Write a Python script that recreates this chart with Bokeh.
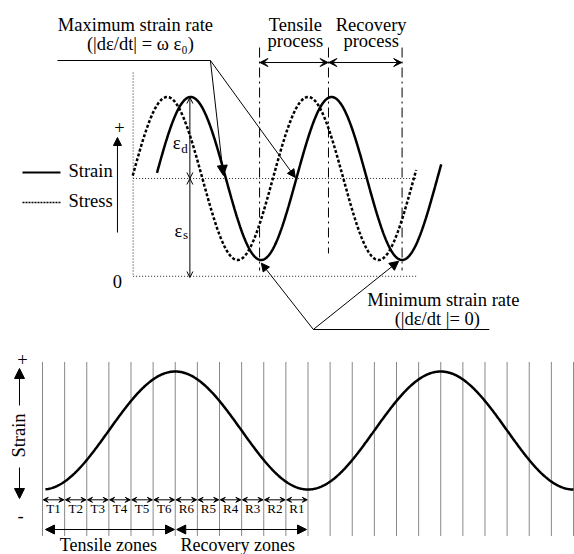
import numpy as np
from bokeh.plotting import figure
from bokeh.layouts import column
from bokeh.models import Range1d, Label, Arrow, NormalHead, OpenHead, VeeHead
from bokeh.embed import file_html
from bokeh.resources import INLINE

FONT = "Liberation Serif"
FS = "18.5px"
SUB = "13px"

# ---------------- data: top panel (phase in degrees, strain units) ----------------
eps_s = 1.2                 # static strain (mean level)
eps_d = 1.0                 # dynamic strain amplitude
stress_lead = 60            # phase lead of stress over strain (deg)
strain_span = (4, 730)      # drawn phase range of strain curve
stress_span = (-58, 666)    # drawn phase range of stress curve
process_bounds = [266, 442, 630]
process_names = [("Tensile", "process"), ("Recovery", "process")]

# ---------------- data: bottom panel ----------------
zone_edges = list(range(0, 721, 30))
zone_labels = ["T1", "T2", "T3", "T4", "T5", "T6", "R6", "R5", "R4", "R3", "R2", "R1"]
bottom_span = (4, 720)

strain_t = np.linspace(strain_span[0], strain_span[1], 500)
strain_v = eps_s + eps_d * np.sin(np.radians(strain_t))
stress_t = np.linspace(stress_span[0], stress_span[1], 500)
stress_v = eps_s + eps_d * np.sin(np.radians(stress_t + stress_lead))
bot_t = np.linspace(bottom_span[0], bottom_span[1], 600)
bot_v = -np.cos(np.radians(bot_t))


def mkfig(w, h, xr, yr):
    f = figure(width=w, height=h, x_range=Range1d(*xr), y_range=Range1d(*yr),
               output_backend="svg", toolbar_location=None,
               x_axis_location=None, y_axis_location=None,
               min_border=0, min_border_left=0, min_border_right=0,
               min_border_top=0, min_border_bottom=0)
    f.grid.visible = False
    f.outline_line_color = None
    f.background_fill_color = "white"
    f.border_fill_color = "white"
    return f


def lab(f, x, y, text, size=FS, align="center", baseline="alphabetic", angle=0):
    off = 0.0
    if baseline == "alphabetic":
        off = 0.32 * float(size.replace("px", ""))
    f.add_layout(Label(x=x, y=y, text=text, text_font=FONT, text_font_size=size,
                       text_align=align, text_baseline=baseline, angle=angle,
                       y_offset=off, text_color="black"))


def arrow(f, x0, y0, x1, y1, end=None, start=None, lw=1):
    f.add_layout(Arrow(x_start=x0, y_start=y0, x_end=x1, y_end=y1,
                       start=start, end=end, line_width=lw, line_color="black"))


def nh(s):
    return NormalHead(size=s, fill_color="black", line_color="black", line_width=1)


def oh(s):
    return OpenHead(size=s, line_color="black", line_width=1)


def vh(s):
    return VeeHead(size=s, fill_color="black", line_color="black", line_width=1)


# ================= TOP PANEL =================
p1 = mkfig(574, 340, (-395.74, 1070.4), (-0.788, 3.384))

dotc = "#222222"
# reference rectangle (dotted)
p1.line([-57, -57], [2.50, 0.0], line_dash="1 2", line_color=dotc, line_width=1)
p1.line([-57, 666], [0.0, 0.0], line_dash="1 2", line_color=dotc, line_width=1)
p1.line([-57, 666], [eps_s, eps_s], line_dash="1 2", line_color=dotc, line_width=1)

# curves
p1.line(stress_t, stress_v, line_color="black", line_width=2.5, line_dash="3 2")
p1.line(strain_t, strain_v, line_color="black", line_width=2.5)

# dash-dot process boundaries
bottoms = [0.071, 0.28, 0.071]
for b, yb in zip(process_bounds, bottoms):
    p1.line([b, b], [2.807, yb], line_color="black", line_width=1, line_dash="10 4 2 4")
for i, (a, b) in enumerate(zip(process_bounds[:-1], process_bounds[1:])):
    arrow(p1, a + 1, 2.623, b - 1, 2.623, start=vh(8), end=vh(8))
    cx = [357.4, 551.0][i]
    lab(p1, cx, 3.016, process_names[i][0])
    lab(p1, cx, 2.813, process_names[i][1])

# maximum strain rate
lab(p1, -51.1, 3.016, "Maximum strain rate")
lab(p1, -38.3, 2.777, "(|dε/dt| = ω ε₀)")
p1.line([-250.2, 140.4], [2.648, 2.648], line_color="black", line_width=1.2)
arrow(p1, 140.4, 2.648, 173.6, 1.237, end=nh(10))
arrow(p1, 140.4, 2.648, 357.4, 1.212, end=nh(8))

# minimum strain rate
lab(p1, 735.3, -0.358, "Minimum strain rate")
lab(p1, 720.0, -0.591, "(|dε/dt |= 0)")
p1.line([403.4, 852.8], [-0.653, -0.653], line_color="black", line_width=1.2)
arrow(p1, 403.4, -0.653, 270.6, 0.161, end=nh(8))
arrow(p1, 403.4, -0.653, 621.2, 0.185, end=nh(9))

# eps_d / eps_s dimension arrows
arrow(p1, 88, eps_s, 88, eps_s + eps_d - 0.006, start=oh(6), end=oh(6))
arrow(p1, 88, eps_s, 88, -0.015, start=oh(6), end=oh(6))
lab(p1, 54.4, 1.564, "ε")
lab(p1, 74.0, 1.523, "d", size=SUB)
lab(p1, 58.7, 0.480, "ε")
lab(p1, 76.6, 0.460, "s", size=SUB)

# legend
p1.line([-339.6, -242.6], [1.274, 1.274], line_color="black", line_width=2)
p1.line([-339.6, -242.6], [0.906, 0.906], line_color="black", line_width=1.5, line_dash="2 1")
lab(p1, -222.1, 1.216, "Strain", align="left")
lab(p1, -222.1, 0.848, "Stress", align="left")

# vertical value arrow
arrow(p1, -97, 0.537, -97, 1.703, end=nh(8))
lab(p1, -91.9, 1.826, "+", baseline="middle")
lab(p1, -97.0, -0.131, "0")

# ================= BOTTOM PANEL =================
p2 = mkfig(574, 214, (-56.95, 721.36), (-2.1017, 1.5254))

p2.segment(x0=zone_edges, y0=[1.153] * len(zone_edges), x1=zone_edges,
           y1=[-1.78] * len(zone_edges), line_color="#111111", line_width=1, line_dash="1 1")
p2.line(bot_t, bot_v, line_color="black", line_width=2.5)

for k, name in enumerate(zone_labels):
    a, b = zone_edges[k], zone_edges[k + 1]
    arrow(p2, a + 1, -1.175, b - 1, -1.175, start=vh(5), end=vh(5))
    lab(p2, (a + b) / 2, -1.39, name, size=SUB)

arrow(p2, 90, -1.678, 4, -1.678, end=nh(9))
arrow(p2, 90, -1.678, 179, -1.678, end=nh(9))
arrow(p2, 270, -1.678, 182, -1.678, end=nh(9))
arrow(p2, 270, -1.678, 358, -1.678, end=nh(9))
lab(p2, 23.5, -2.04, "Tensile zones", size="18px", align="left")
lab(p2, 187.1, -2.04, "Recovery zones", size="18px", align="left")

lab(p2, -32.5, -0.085, "Strain", baseline="middle", angle=np.pi / 2)
arrow(p2, -31.2, 0.424, -31.2, 1.051, end=nh(10))
arrow(p2, -31.2, -0.627, -31.2, -1.153, end=nh(10))
lab(p2, -27.1, 1.203, "+", baseline="middle")
lab(p2, -29.8, -1.44, "-", baseline="middle")

layout = column(p1, p2, spacing=0)
open("out.html", "w").write(file_html(layout, INLINE))
